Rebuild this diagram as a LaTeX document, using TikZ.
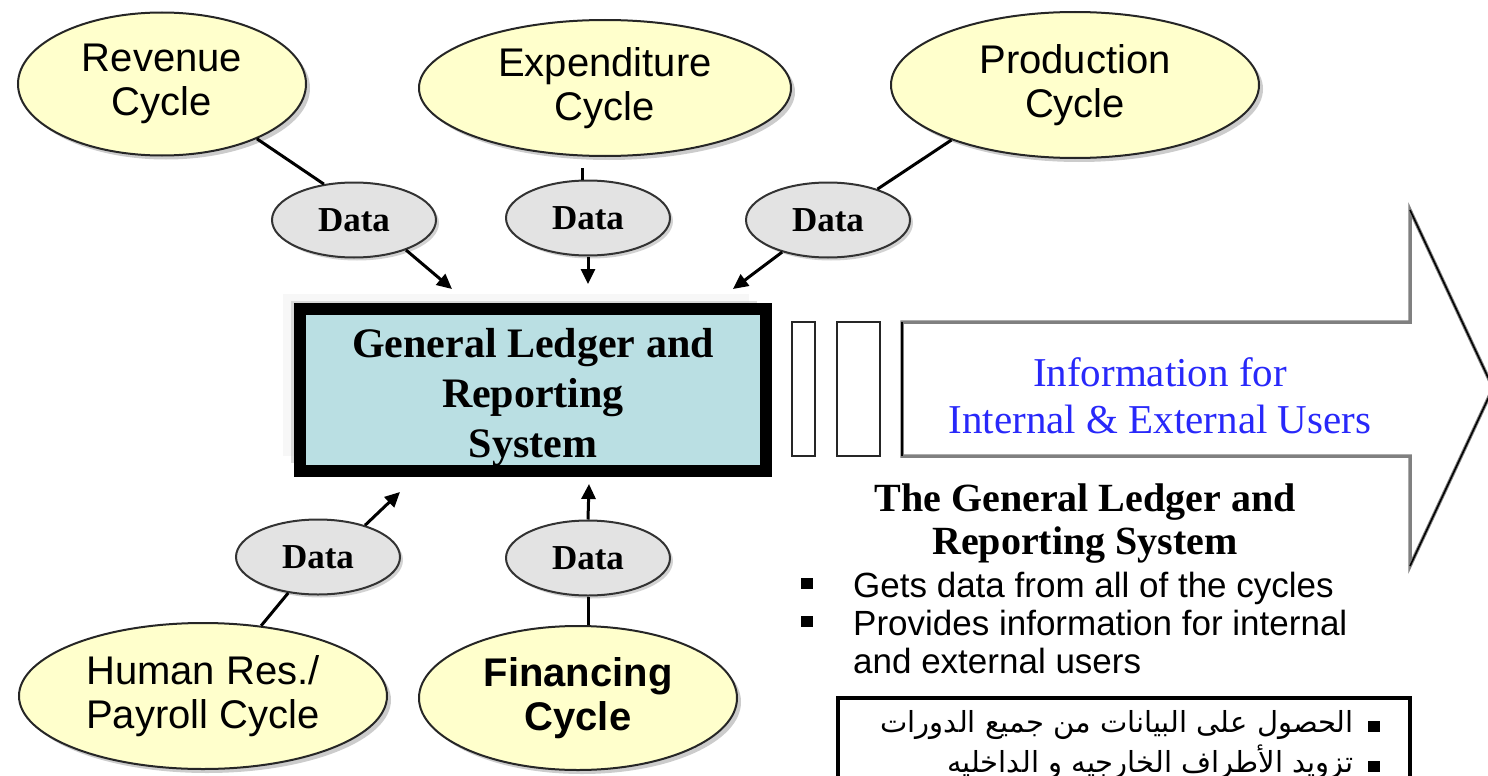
\documentclass[tikz,border=0pt]{standalone}
\usepackage{fontspec}
\usepackage{tikz}
\usetikzlibrary{shapes.geometric,shadows,arrows.meta}
\setmainfont{Liberation Serif}
\newfontfamily\arialfont{Liberation Sans}
\newfontfamily\arabicfont[Script=Arabic]{DejaVu Sans}
\TeXXeTstate=1
\definecolor{cyclefill}{RGB}{255,255,204}
\definecolor{datafill}{RGB}{227,227,227}
\definecolor{glfill}{RGB}{186,223,227}
\definecolor{infoblue}{RGB}{40,40,250}
\newcommand{\sqbullet}{\llap{\raisebox{8pt}{\rule{12pt}{11pt}}\hspace{40pt}}}
\newcommand{\arbullet}{\rule{12pt}{11pt}\hspace{14pt}}

\begin{document}
\begin{tikzpicture}[x=1pt,y=-1pt]
              \tikzstyle{every node}+=[inner sep=0pt]
              \tikzstyle{cyclenode}=[ellipse, draw=black!85, line width=2pt, fill=cyclefill, align=center,
                drop shadow={shadow xshift=4pt, shadow yshift=-4pt, fill=black!40},
                font=\arialfont\fontsize{40}{44}\selectfont]
              \tikzstyle{datanode}=[ellipse, draw=black!80, line width=2pt, fill=datafill,
                minimum width=164pt, minimum height=75pt,
                drop shadow={shadow xshift=3pt, shadow yshift=-3pt, fill=black!35},
                font=\bfseries\fontsize{35}{40}\selectfont]
              \tikzstyle{joinline}=[line width=3pt]
              \tikzstyle{feedline}=[line width=3pt, -{Triangle[length=15pt,width=14pt]}]
              \useasboundingbox (0,0) rectangle (1488,776);
              \node[cyclenode, minimum width=288pt, minimum height=143pt] (rev) at (162,84) {Revenue\\Cycle};
              \node[cyclenode, minimum width=372pt, minimum height=136pt] (exp) at (605,88) {Expenditure\\Cycle};
              \node[cyclenode, minimum width=368pt, minimum height=146pt] (prod) at (1075,85) {Production\\Cycle};
              \node[cyclenode, minimum width=368pt, minimum height=146pt] (hr) at (203,696) {Human Res./\\Payroll Cycle};
              \node[cyclenode, minimum width=318pt, minimum height=144pt,
                font=\arialfont\bfseries\fontsize{40}{44}\selectfont] (fin) at (578,698) {Financing\\Cycle};
              \node[datanode] (d1) at (354,220) {Data};
              \node[datanode] (d2) at (588,218) {Data};
              \node[datanode] (d3) at (828,220) {Data};
              \node[datanode] (d4) at (318,557) {Data};
              \node[datanode] (d5) at (588,558) {Data};
              \node[draw=black, line width=12pt, fill=glfill, minimum width=466pt, minimum height=162pt,
                text height=140pt, text depth=6pt, align=center, font=\bfseries\fontsize{42}{50}\selectfont,
                drop shadow={shadow xshift=-17pt, shadow yshift=15pt, fill=black!6},
                drop shadow={shadow xshift=-9pt, shadow yshift=8pt, fill=black!27}]
                (gl) at (533,390) {General Ledger and\\Reporting\\System};
              \coordinate (t1) at (452,289);
              \coordinate (t2) at (588,284);
              \coordinate (t3) at (733,289);
              \coordinate (t4) at (400,492);
              \coordinate (t5) at (589,484);
              \draw[joinline] (rev.-30) -- (d1.130);
              \draw[feedline] (d1.-30) -- (t1);
              \draw[joinline, shorten >=11pt] (d2.98) -- (d2.98 |- exp.south);
              \draw[feedline] (d2.south) -- (t2);
              \draw[joinline] (prod.204) -- (d3.32);
              \draw[feedline] (d3.215) -- (t3);
              \draw[joinline] (hr) -- (d4);
              \draw[feedline] (d4.34) -- (t4);
              \draw[joinline] (fin.north -| d5) -- (d5);
              \draw[feedline] (d5.north) -- (t5);
              \draw[black!85, line width=2.5pt] (792,322) rectangle (815,456);
              \draw[black!85, line width=2.5pt] (837,322) rectangle (880,456);
              \filldraw[fill=white, draw=black!50, line width=3.5pt] (902,322) -- (1410,322) -- (1410,210) -- (1493,388)
                -- (1410,566) -- (1410,456) -- (902,456) -- cycle;
              \draw[line width=1.5pt] (1410,210) -- (1493,388) -- (1410,566);
              \draw[line width=2.5pt] (902,322) -- (902,456);
              \node[text=infoblue, align=center, anchor=base, font=\fontsize{41}{47}\selectfont]
                (info) at (1160,433) {Information for\\Internal \& External Users};
              \node[align=center, anchor=base, font=\bfseries\fontsize{40}{43}\selectfont]
                (title) at (1085,554) {The General Ledger and\\Reporting System};
              \node[align=left, anchor=base west, font=\arialfont\fontsize{35}{38}\selectfont]
                (uses) at (853,673) {\sqbullet Gets data from all of the cycles\\\sqbullet Provides information for internal\\and external users};
              \draw[line width=4pt] (838,698) rectangle (1410,800);
              \node[align=right, anchor=base east, font=\arabicfont\fontsize{29}{40}\selectfont]
                (arabic) at (1380,772) {\beginR\arbullet الحصول على البيانات من جميع الدورات\endR\\\beginR\arbullet تزويد الأطراف الخارجيه و الداخليه\endR};
            \end{tikzpicture}
\end{document}
